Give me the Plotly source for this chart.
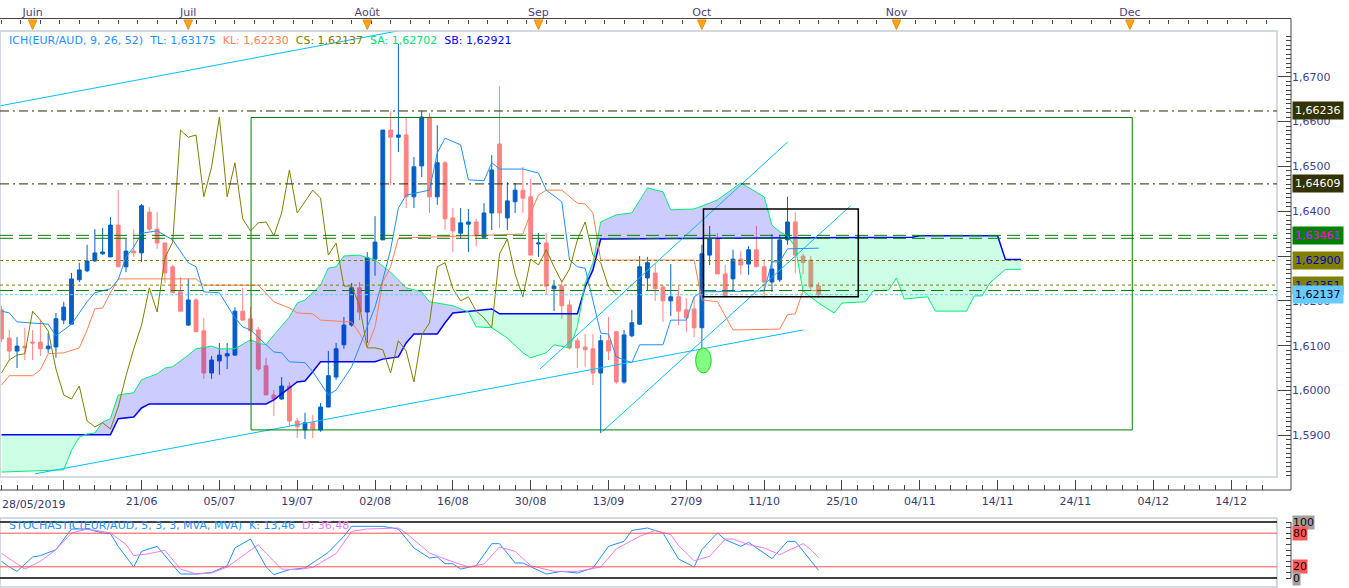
import numpy as np
import plotly.graph_objects as go

# ---------------- data ----------------
# candle index 0 = 28/05/2019 (trading days)
opens = [1.6180,1.6117,1.6088,1.6099,1.6108,1.6108,1.6093,1.6097,1.6157,1.6148,
 1.6247,1.6267,1.6289,1.6305,1.6298,1.6369,1.6276,1.6311,1.6307,1.6398,
 1.6360,1.6329,1.6276,1.6220,1.6146,1.6202,1.6133,1.6039,1.6066,1.6077,
 1.6079,1.6177,1.6160,1.6135,1.6055,1.5990,1.5981,1.6010,1.5932,1.5912,
 1.5928,1.5912,1.5963,1.6030,1.6102,1.6146,1.6229,1.6175,1.6293,1.6336,
 1.6581,1.6565,1.6570,1.6432,1.6501,1.6610,1.6432,1.6508,1.6385,1.6351,
 1.6371,1.6376,1.6342,1.6396,1.6550,1.6385,1.6421,1.6447,1.6432,1.6327,
 1.6329,1.6227,1.6233,1.6191,1.6111,1.6097,1.6093,1.6039,1.6111,1.6131,
 1.6019,1.6122,1.6148,1.6251,1.6262,1.6231,1.6200,1.6209,1.6180,1.6182,
 1.6140,1.6302,1.6338,1.6260,1.6249,1.6293,1.6282,1.6314,1.6276,1.6242,
 1.6247,1.6336,1.6376,1.6300,1.6291,1.6233]
highs = [1.6189,1.6135,1.6119,1.6140,1.6135,1.6157,1.6128,1.6173,1.6198,1.6262,
 1.6285,1.6325,1.6360,1.6363,1.6387,1.6447,1.6338,1.6360,1.6416,1.6409,
 1.6398,1.6329,1.6280,1.6253,1.6249,1.6206,1.6162,1.6077,1.6106,1.6106,
 1.6186,1.6229,1.6186,1.6142,1.6073,1.6001,1.6030,1.6019,1.5939,1.5950,
 1.5946,1.5972,1.6088,1.6106,1.6164,1.6240,1.6242,1.6309,1.6389,1.6581,
 1.6623,1.6773,1.6608,1.6521,1.6623,1.6619,1.6592,1.6512,1.6407,1.6407,
 1.6405,1.6383,1.6418,1.6525,1.6679,1.6465,1.6463,1.6499,1.6472,1.6351,
 1.6351,1.6247,1.6247,1.6202,1.6117,1.6126,1.6126,1.6124,1.6164,1.6131,
 1.6135,1.6180,1.6300,1.6298,1.6282,1.6235,1.6282,1.6233,1.6206,1.6209,
 1.6325,1.6367,1.6351,1.6280,1.6314,1.6311,1.6322,1.6367,1.6293,1.6349,
 1.6347,1.6432,1.6398,1.6305,1.6300,1.6242]
lows = [1.6108,1.6068,1.6050,1.6068,1.6068,1.6077,1.6084,1.6073,1.6148,1.6146,
 1.6242,1.6264,1.6287,1.6302,1.6298,1.6276,1.6264,1.6298,1.6287,1.6356,
 1.6316,1.6240,1.6218,1.6177,1.6144,1.6131,1.6026,1.6026,1.6035,1.6048,
 1.6077,1.6155,1.6108,1.6044,1.5990,1.5943,1.5979,1.5921,1.5894,1.5892,
 1.5894,1.5908,1.5963,1.6024,1.6093,1.6142,1.6157,1.6106,1.6256,1.6336,
 1.6458,1.6532,1.6407,1.6407,1.6476,1.6396,1.6414,1.6358,1.6309,1.6338,
 1.6309,1.6322,1.6340,1.6358,1.6363,1.6358,1.6396,1.6396,1.6302,1.6298,
 1.6213,1.6177,1.6160,1.6091,1.6050,1.6053,1.6012,1.5905,1.6068,1.6015,
 1.6015,1.6119,1.6146,1.6224,1.6200,1.6153,1.6166,1.6146,1.6131,1.6119,
 1.6073,1.6280,1.6260,1.6209,1.6224,1.6258,1.6258,1.6276,1.6206,1.6220,
 1.6242,1.6325,1.6262,1.6260,1.6224,1.6209]
closes = [1.6115,1.6088,1.6099,1.6095,1.6106,1.6093,1.6099,1.6160,1.6186,1.6249,
 1.6269,1.6289,1.6307,1.6309,1.6369,1.6276,1.6311,1.6307,1.6412,1.6360,
 1.6329,1.6262,1.6218,1.6177,1.6202,1.6131,1.6039,1.6068,1.6079,1.6082,
 1.6177,1.6157,1.6133,1.6048,1.5990,1.5981,1.6010,1.5932,1.5919,1.5928,
 1.5914,1.5963,1.6033,1.6093,1.6146,1.6229,1.6175,1.6296,1.6331,1.6581,
 1.6565,1.6570,1.6432,1.6499,1.6610,1.6432,1.6508,1.6383,1.6356,1.6374,
 1.6376,1.6345,1.6396,1.6492,1.6396,1.6423,1.6447,1.6429,1.6302,1.6329,
 1.6233,1.6233,1.6189,1.6095,1.6095,1.6091,1.6039,1.6111,1.6088,1.6019,
 1.6124,1.6151,1.6276,1.6285,1.6227,1.6200,1.6209,1.6177,1.6162,1.6140,
 1.6305,1.6338,1.6260,1.6209,1.6293,1.6280,1.6314,1.6276,1.6242,1.6271,
 1.6336,1.6376,1.6302,1.6285,1.6231,1.62137]

tenkan_k = [0,1,2,6,7,9,10,11,12,14,15,16,17,18,20,22,24,25,26,28,30,31,32,34,35,36,37,39,40,42,
            43,45,46,48,49,50,51,52,55,56,57,59,60,62,63,64,67,69,70,72,73,74,75,77,78,79,81,82,85,86,
            88,89,90,98,99,100,101,105]
tenkan_v = [1.6177,1.6173,1.6153,1.6148,1.6122,1.6148,1.6173,1.6198,1.6218,1.6227,1.6247,1.6298,1.6320,
            1.6351,1.6356,1.6336,1.6285,1.6276,1.6220,1.6218,1.6162,1.6142,1.6135,1.6102,1.6086,1.6084,
            1.6064,1.6062,1.6042,1.5990,1.6001,1.6053,1.6097,1.6186,1.6247,1.6314,1.6407,1.6436,1.6447,
            1.6530,1.6563,1.6548,1.6470,1.6468,1.6508,1.6494,1.6494,1.6485,1.6447,1.6421,1.6291,1.6276,
            1.6273,1.6128,1.6126,1.6075,1.6062,1.6102,1.6102,1.6157,1.6157,1.6209,1.6220,1.6222,1.6287,
            1.6287,1.6316,1.63175]

kijun_k = [0,1,4,5,6,8,10,11,12,13,14,15,25,26,33,35,37,38,40,41,45,46,47,48,49,50,51,67,68,69,70,72,
           74,75,76,77,89,90,92,94,100,101,102,103,105]
kijun_v = [1.6012,1.6033,1.6033,1.6046,1.6082,1.6084,1.6095,1.6135,1.6182,1.6184,1.6218,1.6249,1.6249,
           1.6235,1.6235,1.6198,1.6184,1.6173,1.6171,1.6157,1.6153,1.6128,1.6097,1.6142,1.6242,1.6276,
           1.6340,1.6349,1.6396,1.6436,1.6447,1.6447,1.6418,1.6416,1.6396,1.6291,1.6291,1.6202,1.6198,
           1.6135,1.6137,1.6169,1.6171,1.6223,1.6223]

sa_k = [0,8,9,10,11,12,13,14,15,17,18,20,21,22,24,25,27,28,30,32,33,34,35,37,38,39,41,42,43,44,
        46,48,50,52,54,55,58,60,61,63,65,67,68,70,71,73,74,75,76,77,79,81,83,85,86,89,91,92,95,98,
        99,100,101,102,103,105,107,108,111,112,114,115,116,119,120,124,125,126,127,129,131]
sa_v = [1.5818,1.5823,1.5867,1.5896,1.5903,1.5905,1.5930,1.5937,1.5990,1.5995,1.6024,1.6037,1.6050,
        1.6053,1.6079,1.6093,1.6099,1.6093,1.6093,1.6113,1.6106,1.6102,1.6124,1.6164,1.6195,1.6202,
        1.6235,1.6273,1.6276,1.6300,1.6302,1.6291,1.6264,1.6229,1.6220,1.6198,1.6189,1.6175,1.6142,
        1.6140,1.6117,1.6084,1.6073,1.6084,1.6102,1.6095,1.6142,1.6240,1.6285,1.6376,1.6392,1.6396,
        1.6452,1.6443,1.6403,1.6405,1.6418,1.6425,1.6463,1.6432,1.6369,1.6354,1.6345,1.6320,1.6222,
        1.6195,1.6173,1.6195,1.6198,1.6222,1.6224,1.6251,1.6204,1.6209,1.6177,1.6177,1.6211,1.6211,
        1.6240,1.62702,1.62702]

sb_k = [0,14,15,17,18,19,34,35,38,39,40,41,48,49,51,52,53,56,57,58,63,64,74,75,76,77,117,118,128,129,131]
sb_v = [1.5901,1.5901,1.5937,1.5941,1.5961,1.5970,1.5970,1.5979,1.6019,1.6021,1.6042,1.6064,1.6064,
        1.6070,1.6075,1.6106,1.6126,1.6126,1.6151,1.6173,1.6182,1.6171,1.6171,1.6231,1.6269,1.6338,
        1.6342,1.6345,1.6345,1.62921,1.62921]

chikou_shift = 26

stoch_k_x = [0,1,2,4,5,7,9,11,13,14,15,17,18,20,23,25,27,29,30,32,34,35,37,39,42,44,45,49,51,53,
             55,56,57,58,59,61,63,64,66,67,70,72,74,76,78,80,81,83,85,87,89,90,92,93,95,96,99,101,102,104,105]
stoch_k_v = [30,19.6,11.9,37.5,40,50.6,87.5,87.5,80.4,79.2,56.5,19.6,47.6,56.5,7.1,7.1,10,22,53.6,69.6,
             20,6,14.9,17.9,45.8,74.4,92.3,92.3,87.5,53.6,35.7,37.5,25.6,25.6,16,22,61.3,61.3,26.8,26.8,
             7.1,11.9,8.9,17.9,56.5,65.5,85,89.3,80.4,34,19.6,50.6,80.4,68.5,56.5,63.7,34.5,65.5,65.5,29.8,13.46]
stoch_d_x = [0,3,5,7,9,11,14,16,17,19,21,22,23,25,27,29,33,34,36,38,40,43,45,47,51,52,55,57,60,62,
             64,66,68,71,74,77,79,82,84,86,87,89,91,93,94,96,98,100,103,104,105]
stoch_d_v = [44,16,29.8,50.6,80.4,87.5,80.4,60,40,43.5,49.4,32,16,7.1,8.9,19.6,59.5,44,16,14.9,
             19,43.5,83.3,87.5,89.3,80,44.6,33.9,19.6,25,55.4,47.6,22,11.9,11.9,19.6,52,74.4,85,77.4,
             58,31,38.7,69.6,69.6,59.5,53.6,41.7,61.3,50.6,36.48]

date_tick_k = [8,18,28,38,48,58,68,78,88,98,108,118,128,138,148,158]
date_tick_text = ['','21/06','05/07','19/07','02/08','16/08','30/08','13/09','27/09','11/10',
                  '25/10','04/11','14/11','24/11','04/12','14/12']
first_date_label = '28/05/2019'
month_k = [4,24,47,69,90,115,145]
month_text = ['Juin','Juil','Août','Sep','Oct','Nov','Dec']
price_ticks = [1.59, 1.60, 1.61, 1.62, 1.63, 1.64, 1.65, 1.66, 1.67]

level_vals = [1.66236, 1.64609, 1.63461, 1.63395, 1.62900, 1.62351, 1.62230, 1.62137]
tag_vals = [1.66236, 1.64609, 1.63461, 1.62900, 1.62351, 1.62137]

trend_x0 = [-0.19, 4.3, 69.2, 77.2]
trend_y0 = [1.6635, 1.5814, 1.6048, 1.5908]
trend_x1 = [51.2, 103.0, 101.0, 109.1]
trend_y1 = [1.6803, 1.6135, 1.6554, 1.6412]

green_box = [32.07, 145.3, 1.5912, 1.6609]
black_box = [90.2, 110.1, 1.6209, 1.6405]
ellipse_box = [89.2, 91.2, 1.6039, 1.6095]

stoch_levels = [0, 20, 80, 100]

# ---------------- geometry ----------------
W, H = 1349, 588
MR, MB = 58, 1
PW = W - MR
PH = H - MB
XD = 1277 / PW
def py(ypx):
    return (PH - ypx) / PH
X_RANGE = [-0.19, 163.9]
Y_RANGE = [1.5807, 1.6802]
ST_RANGE = [-16.07, 107.14]

BLUE = '#0560C4'
PINK = '#FF8282'
FONT = 'DejaVu Sans'

bars = list(range(len(closes)))
fig = go.Figure()

fig.add_trace(go.Candlestick(
    x=bars, open=opens, high=highs, low=lows, close=closes,
    increasing=dict(line=dict(color=BLUE, width=1), fillcolor=BLUE),
    decreasing=dict(line=dict(color=PINK, width=1), fillcolor=PINK),
    whiskerwidth=0, hoverinfo='skip'))

# cloud fills (with crossings)
ka = np.array(sa_k, float); va = np.array(sa_v, float)
kb = np.array(sb_k, float); vb = np.array(sb_v, float)
grid = np.union1d(ka, kb)
a = np.interp(grid, ka, va); b = np.interp(grid, kb, vb)
gx, ga, gb = [grid[0]], [a[0]], [b[0]]
for i in range(1, len(grid)):
    d0 = a[i-1] - b[i-1]; d1 = a[i] - b[i]
    if d0 * d1 < 0:
        t = d0 / (d0 - d1)
        xc = grid[i-1] + t * (grid[i] - grid[i-1])
        yc = a[i-1] + t * (a[i] - a[i-1])
        gx.append(xc); ga.append(yc); gb.append(yc)
    gx.append(grid[i]); ga.append(a[i]); gb.append(b[i])
gx = np.array(gx); ga = np.array(ga); gb = np.array(gb)
top = np.maximum(ga, gb)
for base, col in [(gb, 'rgba(0,0,255,0.2)'), (ga, 'rgba(0,255,130,0.2)')]:
    fig.add_trace(go.Scatter(x=gx, y=base, mode='lines', line=dict(width=0), hoverinfo='skip'))
    fig.add_trace(go.Scatter(x=gx, y=top, mode='lines', line=dict(width=0), fill='tonexty',
                             fillcolor=col, hoverinfo='skip'))

fig.add_trace(go.Scatter(x=sb_k, y=sb_v, mode='lines', line=dict(color='#0000FF', width=1.5), hoverinfo='skip'))
fig.add_trace(go.Scatter(x=sa_k, y=sa_v, mode='lines', line=dict(color='#00EE76', width=1), hoverinfo='skip'))
fig.add_trace(go.Scatter(x=kijun_k, y=kijun_v, mode='lines', line=dict(color='#FF7F50', width=1), hoverinfo='skip'))
fig.add_trace(go.Scatter(x=tenkan_k, y=tenkan_v, mode='lines', line=dict(color='#1E90FF', width=1), hoverinfo='skip'))
ck = [k - chikou_shift for k in bars[chikou_shift:]]
fig.add_trace(go.Scatter(x=ck, y=closes[chikou_shift:], mode='lines', line=dict(color='#808000', width=1), hoverinfo='skip'))

for x0, y0, x1, y1 in zip(trend_x0, trend_y0, trend_x1, trend_y1):
    fig.add_trace(go.Scatter(x=[x0, x1], y=[y0, y1], mode='lines', line=dict(color='#00BFFF', width=1), hoverinfo='skip'))

fig.add_trace(go.Scatter(x=stoch_k_x, y=stoch_k_v, xaxis='x', yaxis='y2', mode='lines',
                         line=dict(color='#1E90FF', width=1), hoverinfo='skip'))
fig.add_trace(go.Scatter(x=stoch_d_x, y=stoch_d_v, xaxis='x', yaxis='y2', mode='lines',
                         line=dict(color='#F07CF0', width=1), hoverinfo='skip'))
fig.add_trace(go.Scatter(x=[0], y=[1.6], xaxis='x3', yaxis='y', mode='markers',
                         marker=dict(opacity=0), hoverinfo='skip'))

shapes = []
# frames
shapes.append(dict(type='rect', xref='x domain', yref='y domain', x0=0, x1=1, y0=0, y1=1,
                   line=dict(color='#C4CDD7', width=1.5)))
shapes.append(dict(type='rect', xref='x domain', yref='y2 domain', x0=0, x1=1, y0=0, y1=1,
                   line=dict(color='#C4CDD7', width=1.5)))
# level lines
styles = [('#2A2A00', '9px,4px,2px,4px'), ('#2A2A00', '9px,4px,2px,4px'),
          ('#008000', '13px,6px'), ('#008000', '13px,6px'),
          ('#808000', '3px,3px'), ('#808000', '3px,3px'),
          ('#008000', '13px,6px'), ('#66CCFF', '3px,2px')]
for v, (c, d) in zip(level_vals, styles):
    shapes.append(dict(type='line', xref='x domain', yref='y', x0=0, x1=1, y0=v, y1=v,
                       line=dict(color=c, width=1, dash=d)))
shapes.append(dict(type='rect', xref='x', yref='y', x0=green_box[0], x1=green_box[1],
                   y0=green_box[2], y1=green_box[3], line=dict(color='#008000', width=1)))
shapes.append(dict(type='rect', xref='x', yref='y', x0=black_box[0], x1=black_box[1],
                   y0=black_box[2], y1=black_box[3], line=dict(color='#000000', width=1.5)))
shapes.append(dict(type='circle', xref='x', yref='y', x0=ellipse_box[0], x1=ellipse_box[1],
                   y0=ellipse_box[2], y1=ellipse_box[3], fillcolor='#80FF80', line=dict(color='#22CC22', width=1)))
# stochastic levels
for lv in stoch_levels:
    c = '#000000' if lv in (0, 100) else '#FF5050'
    shapes.append(dict(type='line', xref='x domain', yref='y2', x0=0, x1=1, y0=lv, y1=lv,
                       line=dict(color=c, width=1.5 if c == '#000000' else 1)))
# rulers
shapes.append(dict(type='line', xref='paper', yref='paper', x0=0, x1=1, y0=py(18.5), y1=py(18.5),
                   line=dict(color='#444', width=1)))
shapes.append(dict(type='line', xref='paper', yref='paper', x0=0, x1=1, y0=py(490), y1=py(490),
                   line=dict(color='#444', width=1)))
shapes.append(dict(type='line', xref='paper', yref='paper', x0=1, x1=1, y0=py(18.5), y1=py(490),
                   line=dict(color='#444', width=1)))
shapes.append(dict(type='line', xref='paper', yref='y2', x0=1, x1=1, y0=0, y1=100,
                   line=dict(color='#444', width=1)))
for k in month_k:
    shapes.append(dict(type='path', xref='x', yref='paper',
                       path=f'M {k-0.55},{py(20)} L {k+0.55},{py(20)} L {k},{py(29.5)} Z',
                       fillcolor='#FFA41E', line=dict(color='#F08C00', width=1)))
fig.update_layout(shapes=shapes)

ann = []
def sp(c, t):
    return f"<span style='color:{c}'>{t}</span>"
nb = '\u00a0'
legend = (sp('#1E90FF', 'ICH(EUR/AUD, 9, 26, 52)' + nb + ' TL: 1,63175') + nb + ' ' +
          sp('#FF7F50', 'KL: 1,62230') + nb + ' ' + sp('#808000', 'CS: 1,62137') + nb + ' ' +
          sp('#00E070', 'SA: 1,62702') + nb + ' ' + sp('#0000FF', 'SB: 1,62921'))
ann.append(dict(xref='paper', yref='paper', x=7/PW, y=py(40), xanchor='left', yanchor='middle',
                text=legend, showarrow=False, font=dict(family=FONT, size=11)))
st_leg = (sp('#1E90FF', 'STOCHASTIC(EUR/AUD, 5, 3, 3, MVA, MVA)' + nb + ' K: 13,46') + nb + ' ' +
          sp('#F07CF0', 'D: 36,48'))
ann.append(dict(xref='paper', yref='paper', x=7/PW, y=py(525), xanchor='left', yanchor='middle',
                text=st_leg, showarrow=False, font=dict(family=FONT, size=11)))
ann.append(dict(xref='paper', yref='paper', x=0, y=py(504), xanchor='left', yanchor='middle',
                text=first_date_label, showarrow=False, font=dict(family=FONT, size=11, color='#3A3A6E')))
tag_bg = ['#333300', '#333300', '#008000', '#808000', '#808000', '#66CCFF']
tag_fg = ['#FFFFFF', '#FFFFFF', '#FF00FF', '#0000CC', '#0000CC', '#00002A']
for v, bg, fg in zip(tag_vals, tag_bg, tag_fg):
    ann.append(dict(xref='paper', yref='y', x=1.0008, y=v, xanchor='left', yanchor='middle',
                    text=f'{v:.5f}'.replace('.', ','), showarrow=False, bgcolor=bg, borderpad=2,
                    font=dict(family=FONT, size=11, color=fg)))
st_bg = {0: '#A0A0A0', 20: '#FF5858', 80: '#FF5858', 100: '#A0A0A0'}
for lv in [100, 80, 20, 0]:
    ann.append(dict(xref='paper', yref='y2', x=1.0008, y=lv, xanchor='left', yanchor='middle',
                    text=str(lv), showarrow=False, bgcolor=st_bg[lv], borderpad=0,
                    font=dict(family=FONT, size=11, color='#2A0000')))
fig.update_layout(annotations=ann)

fig.update_layout(
    width=W, height=H, margin=dict(l=0, r=MR, t=0, b=MB, pad=0),
    paper_bgcolor='white', plot_bgcolor='white', showlegend=False, separators=',.',
    font=dict(family=FONT, size=11, color='#3F3F8F'),
    xaxis=dict(domain=[0, XD], range=X_RANGE, anchor='free', position=py(490),
               showgrid=False, zeroline=False, showline=False, automargin=False,
               ticks='inside', ticklen=10, tickcolor='#444', tickwidth=1,
               tickmode='array', tickvals=date_tick_k, ticktext=date_tick_text,
               tickfont=dict(family=FONT, size=11, color='#3A3A6E'), ticklabelstandoff=3,
               minor=dict(tickmode='linear', tick0=0, dtick=2, ticklen=5, ticks='inside',
                          tickcolor='#444', showgrid=False),
               rangeslider=dict(visible=False)),
    xaxis3=dict(domain=[0, XD], range=X_RANGE, overlaying='x', side='top', anchor='free',
                position=py(18.5), showgrid=False, zeroline=False, showline=False, automargin=False,
                ticks='inside', ticklen=6, tickcolor='#444',
                tickmode='array', tickvals=month_k, ticktext=month_text,
                tickfont=dict(family=FONT, size=11, color='#4B3F7A'),
                minor=dict(tickmode='linear', tick0=0, dtick=2.5, ticklen=4, ticks='inside',
                           tickcolor='#444', showgrid=False)),
    yaxis=dict(domain=[py(477), py(31)], range=Y_RANGE, side='right', anchor='free', position=1,
               showgrid=False, zeroline=False, showline=False, automargin=False,
               ticks='inside', ticklen=14, tickcolor='#444', tickmode='array', tickvals=price_ticks,
               tickformat='.4f', tickfont=dict(family=FONT, size=11, color='#3F3F8F'),
               minor=dict(tickmode='linear', tick0=1.58, dtick=0.001, ticklen=5, ticks='inside',
                          tickcolor='#444', showgrid=False)),
    yaxis2=dict(domain=[0, py(518)], range=ST_RANGE, side='right', anchor='free', position=1,
                showgrid=False, zeroline=False, showline=False, showticklabels=False, automargin=False,
                ticks='inside', ticklen=5, tickcolor='#444', tickmode='array',
                tickvals=[0, 10, 20, 30, 40, 50, 60, 70, 80, 90, 100]),
)

fig.write_html('out.html', config={'displayModeBar': False, 'staticPlot': True},
               post_script="document.body.style.margin='0px';document.body.style.overflow='hidden';")
